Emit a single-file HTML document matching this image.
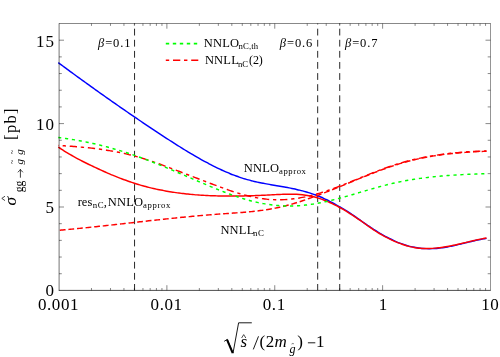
<!DOCTYPE html>
<html><head><meta charset="utf-8"><title>plot</title>
<style>html,body{margin:0;padding:0;background:#fff;}body{width:500px;height:357px;position:relative;overflow:hidden;font-family:"Liberation Serif",serif;}</style>
</head><body>
<svg width="500" height="357" viewBox="0 0 500 357" style="position:absolute;left:0;top:0;will-change:transform">
<rect width="500" height="357" fill="#fff"/>
<path d="M91.47 290.40v-2.40M91.47 23.50v2.40M110.47 290.40v-2.40M110.47 23.50v2.40M123.95 290.40v-2.40M123.95 23.50v2.40M134.40 290.40v-2.40M134.40 23.50v2.40M142.94 290.40v-2.40M142.94 23.50v2.40M150.16 290.40v-2.40M150.16 23.50v2.40M156.42 290.40v-2.40M156.42 23.50v2.40M161.94 290.40v-2.40M161.94 23.50v2.40M166.88 290.40v-5.20M166.88 23.50v5.20M199.35 290.40v-2.40M199.35 23.50v2.40M218.34 290.40v-2.40M218.34 23.50v2.40M231.82 290.40v-2.40M231.82 23.50v2.40M242.28 290.40v-2.40M242.28 23.50v2.40M250.82 290.40v-2.40M250.82 23.50v2.40M258.04 290.40v-2.40M258.04 23.50v2.40M264.30 290.40v-2.40M264.30 23.50v2.40M269.81 290.40v-2.40M269.81 23.50v2.40M274.75 290.40v-5.20M274.75 23.50v5.20M307.22 290.40v-2.40M307.22 23.50v2.40M326.22 290.40v-2.40M326.22 23.50v2.40M339.70 290.40v-2.40M339.70 23.50v2.40M350.15 290.40v-2.40M350.15 23.50v2.40M358.69 290.40v-2.40M358.69 23.50v2.40M365.91 290.40v-2.40M365.91 23.50v2.40M372.17 290.40v-2.40M372.17 23.50v2.40M377.69 290.40v-2.40M377.69 23.50v2.40M382.62 290.40v-5.20M382.62 23.50v5.20M415.10 290.40v-2.40M415.10 23.50v2.40M434.09 290.40v-2.40M434.09 23.50v2.40M447.57 290.40v-2.40M447.57 23.50v2.40M458.03 290.40v-2.40M458.03 23.50v2.40M466.57 290.40v-2.40M466.57 23.50v2.40M473.79 290.40v-2.40M473.79 23.50v2.40M480.05 290.40v-2.40M480.05 23.50v2.40M485.56 290.40v-2.40M485.56 23.50v2.40M59.00 273.72h2.80M490.50 273.72h-2.80M59.00 257.04h2.80M490.50 257.04h-2.80M59.00 240.36h2.80M490.50 240.36h-2.80M59.00 223.68h2.80M490.50 223.68h-2.80M59.00 207.00h5.00M490.50 207.00h-5.00M59.00 190.32h2.80M490.50 190.32h-2.80M59.00 173.64h2.80M490.50 173.64h-2.80M59.00 156.96h2.80M490.50 156.96h-2.80M59.00 140.28h2.80M490.50 140.28h-2.80M59.00 123.60h5.00M490.50 123.60h-5.00M59.00 106.92h2.80M490.50 106.92h-2.80M59.00 90.24h2.80M490.50 90.24h-2.80M59.00 73.56h2.80M490.50 73.56h-2.80M59.00 56.88h2.80M490.50 56.88h-2.80M59.00 40.20h5.00M490.50 40.20h-5.00" stroke="#000" stroke-width="0.47" fill="none"/>
<g fill="none" stroke-linecap="butt" stroke-linejoin="round">
<path d="M134.55 290.40V23.50" stroke="#000" stroke-width="0.85" stroke-dasharray="6.8 4.3" stroke-dashoffset="0.4"/>
<path d="M317.68 290.40V23.50" stroke="#000" stroke-width="0.85" stroke-dasharray="6.8 4.3" stroke-dashoffset="0.4"/>
<path d="M339.73 290.40V23.50" stroke="#000" stroke-width="0.85" stroke-dasharray="6.8 4.3" stroke-dashoffset="0.4"/>
<path d="M58.30 62.67 C58.80 63.04 60.31 64.16 61.32 64.90 C62.32 65.64 63.33 66.38 64.33 67.12 C65.34 67.87 66.34 68.60 67.35 69.34 C68.35 70.08 69.36 70.82 70.36 71.55 C71.37 72.29 72.37 73.02 73.38 73.76 C74.38 74.49 75.39 75.22 76.39 75.96 C77.40 76.69 78.40 77.42 79.41 78.15 C80.41 78.88 81.42 79.60 82.42 80.33 C83.43 81.06 84.43 81.78 85.44 82.51 C86.44 83.23 87.45 83.96 88.45 84.68 C89.46 85.40 90.47 86.12 91.47 86.84 C92.48 87.56 93.48 88.28 94.49 89.00 C95.49 89.72 96.50 90.44 97.50 91.15 C98.51 91.87 99.51 92.58 100.52 93.30 C101.52 94.01 102.53 94.72 103.53 95.43 C104.54 96.14 105.54 96.85 106.55 97.56 C107.55 98.27 108.56 98.98 109.56 99.68 C110.57 100.39 111.57 101.09 112.58 101.80 C113.58 102.50 114.59 103.20 115.59 103.91 C116.60 104.61 117.60 105.31 118.61 106.00 C119.62 106.70 120.62 107.40 121.63 108.10 C122.63 108.79 123.64 109.49 124.64 110.18 C125.65 110.88 126.65 111.57 127.66 112.26 C128.66 112.95 129.67 113.64 130.67 114.33 C131.68 115.02 132.68 115.70 133.69 116.39 C134.69 117.08 135.70 117.76 136.70 118.44 C137.71 119.13 138.71 119.81 139.72 120.49 C140.72 121.17 141.73 121.85 142.73 122.53 C143.74 123.21 144.74 123.88 145.75 124.56 C146.75 125.23 147.76 125.91 148.76 126.58 C149.77 127.25 150.78 127.92 151.78 128.59 C152.79 129.26 153.79 129.93 154.80 130.60 C155.80 131.26 156.81 131.93 157.81 132.59 C158.82 133.26 159.82 133.92 160.83 134.58 C161.83 135.24 162.84 135.90 163.84 136.56 C164.85 137.22 165.85 137.88 166.86 138.53 C167.86 139.18 168.87 139.84 169.87 140.49 C170.88 141.14 171.88 141.78 172.89 142.43 C173.89 143.07 174.90 143.71 175.90 144.35 C176.91 144.99 177.91 145.62 178.92 146.25 C179.92 146.89 180.93 147.51 181.94 148.14 C182.94 148.76 183.95 149.38 184.95 150.00 C185.96 150.61 186.96 151.22 187.97 151.83 C188.97 152.44 189.98 153.04 190.98 153.64 C191.99 154.24 192.99 154.83 194.00 155.42 C195.00 156.00 196.01 156.59 197.01 157.16 C198.02 157.74 199.02 158.31 200.03 158.88 C201.03 159.44 202.04 160.00 203.04 160.55 C204.05 161.11 205.05 161.65 206.06 162.19 C207.06 162.73 208.07 163.27 209.07 163.79 C210.08 164.32 211.08 164.84 212.09 165.35 C213.10 165.87 214.10 166.37 215.11 166.87 C216.11 167.37 217.12 167.86 218.12 168.34 C219.13 168.82 220.13 169.29 221.14 169.76 C222.14 170.23 223.15 170.68 224.15 171.13 C225.16 171.58 226.16 172.02 227.17 172.45 C228.17 172.88 229.18 173.30 230.18 173.71 C231.19 174.12 232.19 174.52 233.20 174.91 C234.20 175.30 235.21 175.68 236.21 176.05 C237.22 176.42 238.22 176.78 239.23 177.12 C240.23 177.47 241.24 177.80 242.25 178.12 C243.25 178.45 244.26 178.76 245.26 179.06 C246.27 179.35 247.27 179.64 248.28 179.91 C249.28 180.19 250.29 180.45 251.29 180.70 C252.30 180.95 253.30 181.19 254.31 181.43 C255.31 181.66 256.32 181.88 257.32 182.10 C258.33 182.31 259.33 182.52 260.34 182.72 C261.34 182.93 262.35 183.12 263.35 183.31 C264.36 183.50 265.36 183.69 266.37 183.87 C267.37 184.05 268.38 184.23 269.38 184.41 C270.39 184.58 271.39 184.76 272.40 184.93 C273.41 185.10 274.41 185.27 275.42 185.44 C276.42 185.62 277.43 185.79 278.43 185.96 C279.44 186.13 280.44 186.31 281.45 186.48 C282.45 186.66 283.46 186.84 284.46 187.02 C285.47 187.20 286.47 187.39 287.48 187.58 C288.48 187.77 289.49 187.96 290.49 188.16 C291.50 188.36 292.50 188.57 293.51 188.78 C294.51 188.99 295.52 189.21 296.52 189.44 C297.53 189.67 298.53 189.90 299.54 190.15 C300.54 190.39 301.55 190.64 302.55 190.91 C303.56 191.17 304.57 191.44 305.57 191.73 C306.58 192.02 307.58 192.31 308.59 192.62 C309.59 192.93 310.60 193.25 311.60 193.59 C312.61 193.92 313.61 194.27 314.62 194.63 C315.62 195.00 316.63 195.37 317.63 195.77 C318.64 196.16 319.64 196.57 320.65 197.00 C321.65 197.42 322.66 197.87 323.66 198.33 C324.67 198.79 325.67 199.27 326.68 199.77 C327.68 200.27 328.69 200.79 329.69 201.32 C330.70 201.84 331.70 202.39 332.71 202.93 C333.72 203.48 334.72 204.04 335.73 204.59 C336.73 205.15 337.74 205.71 338.74 206.28 C339.75 206.84 340.75 207.42 341.76 208.00 C342.76 208.59 343.77 209.18 344.77 209.79 C345.78 210.39 346.78 211.01 347.79 211.65 C348.79 212.29 349.80 212.95 350.80 213.62 C351.81 214.29 352.81 214.98 353.82 215.68 C354.82 216.37 355.83 217.08 356.83 217.79 C357.84 218.50 358.84 219.22 359.85 219.93 C360.85 220.64 361.86 221.35 362.86 222.06 C363.87 222.76 364.88 223.46 365.88 224.15 C366.89 224.84 367.89 225.53 368.90 226.20 C369.90 226.88 370.91 227.54 371.91 228.20 C372.92 228.85 373.92 229.50 374.93 230.13 C375.93 230.77 376.94 231.39 377.94 232.00 C378.95 232.62 379.95 233.22 380.96 233.81 C381.96 234.39 382.97 234.97 383.97 235.53 C384.98 236.09 385.98 236.64 386.99 237.17 C387.99 237.70 389.00 238.22 390.00 238.73 C391.01 239.23 392.01 239.72 393.02 240.19 C394.02 240.66 395.03 241.11 396.04 241.55 C397.04 241.98 398.05 242.40 399.05 242.80 C400.06 243.20 401.06 243.58 402.07 243.94 C403.07 244.30 404.08 244.65 405.08 244.97 C406.09 245.29 407.09 245.59 408.10 245.87 C409.10 246.15 410.11 246.41 411.11 246.64 C412.12 246.88 413.12 247.09 414.13 247.29 C415.13 247.48 416.14 247.65 417.14 247.81 C418.15 247.96 419.15 248.09 420.16 248.21 C421.16 248.32 422.17 248.41 423.17 248.49 C424.18 248.56 425.18 248.61 426.19 248.65 C427.20 248.69 428.20 248.70 429.21 248.70 C430.21 248.70 431.22 248.69 432.22 248.65 C433.23 248.61 434.23 248.56 435.24 248.49 C436.24 248.42 437.25 248.33 438.25 248.23 C439.26 248.13 440.26 248.01 441.27 247.88 C442.27 247.75 443.28 247.60 444.28 247.44 C445.29 247.28 446.29 247.11 447.30 246.93 C448.30 246.75 449.31 246.56 450.31 246.36 C451.32 246.16 452.32 245.94 453.33 245.73 C454.33 245.51 455.34 245.29 456.35 245.06 C457.35 244.83 458.36 244.60 459.36 244.36 C460.37 244.12 461.37 243.88 462.38 243.64 C463.38 243.39 464.39 243.15 465.39 242.90 C466.40 242.66 467.40 242.41 468.41 242.17 C469.41 241.93 470.42 241.69 471.42 241.45 C472.43 241.21 473.43 240.98 474.44 240.75 C475.44 240.52 476.45 240.29 477.45 240.08 C478.46 239.86 479.46 239.65 480.47 239.45 C481.47 239.25 482.48 239.05 483.48 238.87 C484.49 238.69 486.00 238.44 486.50 238.36" stroke="#0000ff" stroke-width="1.45"/>
<path d="M58.30 145.44 C58.80 145.47 60.31 145.56 61.32 145.62 C62.32 145.69 63.33 145.75 64.33 145.82 C65.34 145.88 66.34 145.95 67.35 146.02 C68.35 146.09 69.36 146.16 70.36 146.24 C71.37 146.31 72.37 146.38 73.38 146.46 C74.38 146.54 75.39 146.62 76.39 146.70 C77.40 146.78 78.40 146.87 79.41 146.96 C80.41 147.04 81.42 147.13 82.42 147.23 C83.43 147.32 84.43 147.41 85.44 147.51 C86.44 147.61 87.45 147.72 88.45 147.82 C89.46 147.93 90.47 148.04 91.47 148.15 C92.48 148.26 93.48 148.38 94.49 148.50 C95.49 148.62 96.50 148.75 97.50 148.88 C98.51 149.01 99.51 149.14 100.52 149.28 C101.52 149.42 102.53 149.56 103.53 149.71 C104.54 149.85 105.54 150.00 106.55 150.16 C107.55 150.32 108.56 150.48 109.56 150.65 C110.57 150.81 111.57 150.99 112.58 151.16 C113.58 151.34 114.59 151.53 115.59 151.72 C116.60 151.90 117.60 152.10 118.61 152.30 C119.62 152.50 120.62 152.71 121.63 152.92 C122.63 153.14 123.64 153.35 124.64 153.58 C125.65 153.81 126.65 154.04 127.66 154.28 C128.66 154.52 129.67 154.76 130.67 155.02 C131.68 155.27 132.68 155.53 133.69 155.80 C134.69 156.06 135.70 156.34 136.70 156.62 C137.71 156.90 138.71 157.19 139.72 157.49 C140.72 157.78 141.73 158.08 142.73 158.39 C143.74 158.70 144.74 159.01 145.75 159.33 C146.75 159.65 147.76 159.98 148.76 160.31 C149.77 160.64 150.78 160.97 151.78 161.31 C152.79 161.65 153.79 162.00 154.80 162.35 C155.80 162.70 156.81 163.05 157.81 163.41 C158.82 163.76 159.82 164.12 160.83 164.49 C161.83 164.85 162.84 165.22 163.84 165.59 C164.85 165.96 165.85 166.33 166.86 166.71 C167.86 167.08 168.87 167.46 169.87 167.84 C170.88 168.22 171.88 168.60 172.89 168.99 C173.89 169.37 174.90 169.76 175.90 170.14 C176.91 170.53 177.91 170.92 178.92 171.30 C179.92 171.69 180.93 172.08 181.94 172.47 C182.94 172.85 183.95 173.24 184.95 173.63 C185.96 174.02 186.96 174.41 187.97 174.80 C188.97 175.19 189.98 175.58 190.98 175.97 C191.99 176.35 192.99 176.74 194.00 177.13 C195.00 177.52 196.01 177.91 197.01 178.29 C198.02 178.68 199.02 179.07 200.03 179.45 C201.03 179.84 202.04 180.22 203.04 180.61 C204.05 180.99 205.05 181.37 206.06 181.75 C207.06 182.14 208.07 182.52 209.07 182.90 C210.08 183.28 211.08 183.65 212.09 184.03 C213.10 184.41 214.10 184.78 215.11 185.16 C216.11 185.53 217.12 185.90 218.12 186.27 C219.13 186.64 220.13 187.01 221.14 187.38 C222.14 187.74 223.15 188.11 224.15 188.47 C225.16 188.83 226.16 189.19 227.17 189.54 C228.17 189.89 229.18 190.24 230.18 190.59 C231.19 190.93 232.19 191.27 233.20 191.60 C234.20 191.93 235.21 192.26 236.21 192.57 C237.22 192.89 238.22 193.20 239.23 193.51 C240.23 193.81 241.24 194.10 242.25 194.39 C243.25 194.67 244.26 194.95 245.26 195.21 C246.27 195.48 247.27 195.73 248.28 195.98 C249.28 196.22 250.29 196.45 251.29 196.68 C252.30 196.90 253.30 197.11 254.31 197.31 C255.31 197.51 256.32 197.70 257.32 197.88 C258.33 198.06 259.33 198.22 260.34 198.38 C261.34 198.53 262.35 198.67 263.35 198.80 C264.36 198.93 265.36 199.05 266.37 199.15 C267.37 199.25 268.38 199.34 269.38 199.42 C270.39 199.50 271.39 199.56 272.40 199.61 C273.41 199.67 274.41 199.70 275.42 199.73 C276.42 199.75 277.43 199.77 278.43 199.76 C279.44 199.76 280.44 199.75 281.45 199.72 C282.45 199.70 283.46 199.66 284.46 199.61 C285.47 199.56 286.47 199.49 287.48 199.42 C288.48 199.34 289.49 199.25 290.49 199.16 C291.50 199.06 292.50 198.94 293.51 198.82 C294.51 198.70 295.52 198.56 296.52 198.42 C297.53 198.27 298.53 198.11 299.54 197.94 C300.54 197.78 301.55 197.59 302.55 197.40 C303.56 197.21 304.57 197.01 305.57 196.80 C306.58 196.58 307.58 196.36 308.59 196.13 C309.59 195.89 310.60 195.65 311.60 195.39 C312.61 195.14 313.61 194.87 314.62 194.60 C315.62 194.32 316.63 194.04 317.63 193.74 C318.64 193.45 319.64 193.15 320.65 192.84 C321.65 192.53 322.66 192.21 323.66 191.89 C324.67 191.56 325.67 191.23 326.68 190.89 C327.68 190.55 328.69 190.20 329.69 189.85 C330.70 189.50 331.70 189.14 332.71 188.78 C333.72 188.41 334.72 188.04 335.73 187.67 C336.73 187.29 337.74 186.91 338.74 186.53 C339.75 186.14 340.75 185.76 341.76 185.36 C342.76 184.97 343.77 184.58 344.77 184.18 C345.78 183.78 346.78 183.38 347.79 182.97 C348.79 182.57 349.80 182.16 350.80 181.76 C351.81 181.35 352.81 180.94 353.82 180.53 C354.82 180.12 355.83 179.71 356.83 179.30 C357.84 178.88 358.84 178.47 359.85 178.06 C360.85 177.65 361.86 177.24 362.86 176.82 C363.87 176.41 364.88 176.00 365.88 175.60 C366.89 175.19 367.89 174.78 368.90 174.38 C369.90 173.97 370.91 173.57 371.91 173.17 C372.92 172.77 373.92 172.37 374.93 171.98 C375.93 171.58 376.94 171.19 377.94 170.81 C378.95 170.42 379.95 170.04 380.96 169.66 C381.96 169.29 382.97 168.91 383.97 168.55 C384.98 168.18 385.98 167.82 386.99 167.46 C387.99 167.11 389.00 166.76 390.00 166.42 C391.01 166.07 392.01 165.74 393.02 165.41 C394.02 165.08 395.03 164.76 396.04 164.44 C397.04 164.13 398.05 163.82 399.05 163.52 C400.06 163.22 401.06 162.92 402.07 162.64 C403.07 162.35 404.08 162.07 405.08 161.79 C406.09 161.52 407.09 161.25 408.10 160.99 C409.10 160.73 410.11 160.47 411.11 160.22 C412.12 159.97 413.12 159.73 414.13 159.49 C415.13 159.26 416.14 159.03 417.14 158.80 C418.15 158.58 419.15 158.36 420.16 158.14 C421.16 157.93 422.17 157.72 423.17 157.52 C424.18 157.32 425.18 157.12 426.19 156.93 C427.20 156.74 428.20 156.56 429.21 156.38 C430.21 156.20 431.22 156.02 432.22 155.85 C433.23 155.68 434.23 155.52 435.24 155.36 C436.24 155.20 437.25 155.05 438.25 154.90 C439.26 154.75 440.26 154.60 441.27 154.46 C442.27 154.32 443.28 154.19 444.28 154.06 C445.29 153.93 446.29 153.80 447.30 153.68 C448.30 153.56 449.31 153.45 450.31 153.33 C451.32 153.22 452.32 153.11 453.33 153.01 C454.33 152.91 455.34 152.81 456.35 152.71 C457.35 152.61 458.36 152.52 459.36 152.44 C460.37 152.35 461.37 152.26 462.38 152.18 C463.38 152.10 464.39 152.03 465.39 151.96 C466.40 151.88 467.40 151.81 468.41 151.75 C469.41 151.68 470.42 151.62 471.42 151.56 C472.43 151.50 473.43 151.45 474.44 151.40 C475.44 151.35 476.45 151.30 477.45 151.25 C478.46 151.20 479.46 151.16 480.47 151.12 C481.47 151.08 482.48 151.04 483.48 151.01 C484.49 150.98 486.00 150.93 486.50 150.92" stroke="#ff0000" stroke-width="1.45" stroke-dasharray="3.3 3.8 7.3 3.8" stroke-dashoffset="13.85"/>
<path d="M58.30 230.35 C58.80 230.31 60.31 230.17 61.32 230.08 C62.32 229.99 63.33 229.90 64.33 229.81 C65.34 229.72 66.34 229.63 67.35 229.53 C68.35 229.44 69.36 229.34 70.36 229.25 C71.37 229.15 72.37 229.06 73.38 228.96 C74.38 228.86 75.39 228.76 76.39 228.66 C77.40 228.57 78.40 228.47 79.41 228.37 C80.41 228.27 81.42 228.17 82.42 228.06 C83.43 227.96 84.43 227.86 85.44 227.76 C86.44 227.66 87.45 227.55 88.45 227.45 C89.46 227.34 90.47 227.24 91.47 227.13 C92.48 227.03 93.48 226.92 94.49 226.82 C95.49 226.71 96.50 226.61 97.50 226.50 C98.51 226.39 99.51 226.28 100.52 226.18 C101.52 226.07 102.53 225.96 103.53 225.85 C104.54 225.74 105.54 225.63 106.55 225.52 C107.55 225.41 108.56 225.30 109.56 225.19 C110.57 225.08 111.57 224.97 112.58 224.86 C113.58 224.75 114.59 224.64 115.59 224.53 C116.60 224.42 117.60 224.31 118.61 224.20 C119.62 224.08 120.62 223.97 121.63 223.86 C122.63 223.75 123.64 223.64 124.64 223.53 C125.65 223.41 126.65 223.30 127.66 223.19 C128.66 223.08 129.67 222.96 130.67 222.85 C131.68 222.74 132.68 222.63 133.69 222.52 C134.69 222.40 135.70 222.29 136.70 222.18 C137.71 222.07 138.71 221.95 139.72 221.84 C140.72 221.73 141.73 221.62 142.73 221.51 C143.74 221.39 144.74 221.28 145.75 221.17 C146.75 221.06 147.76 220.95 148.76 220.84 C149.77 220.73 150.78 220.62 151.78 220.51 C152.79 220.40 153.79 220.29 154.80 220.18 C155.80 220.07 156.81 219.96 157.81 219.85 C158.82 219.74 159.82 219.63 160.83 219.52 C161.83 219.41 162.84 219.31 163.84 219.20 C164.85 219.09 165.85 218.98 166.86 218.88 C167.86 218.77 168.87 218.67 169.87 218.56 C170.88 218.46 171.88 218.35 172.89 218.25 C173.89 218.14 174.90 218.04 175.90 217.94 C176.91 217.84 177.91 217.73 178.92 217.63 C179.92 217.53 180.93 217.43 181.94 217.33 C182.94 217.23 183.95 217.13 184.95 217.03 C185.96 216.94 186.96 216.84 187.97 216.74 C188.97 216.65 189.98 216.55 190.98 216.46 C191.99 216.36 192.99 216.27 194.00 216.17 C195.00 216.08 196.01 215.99 197.01 215.90 C198.02 215.81 199.02 215.72 200.03 215.63 C201.03 215.54 202.04 215.45 203.04 215.37 C204.05 215.28 205.05 215.19 206.06 215.11 C207.06 215.02 208.07 214.94 209.07 214.86 C210.08 214.78 211.08 214.70 212.09 214.62 C213.10 214.54 214.10 214.46 215.11 214.38 C216.11 214.30 217.12 214.23 218.12 214.15 C219.13 214.08 220.13 214.00 221.14 213.93 C222.14 213.86 223.15 213.79 224.15 213.72 C225.16 213.65 226.16 213.58 227.17 213.51 C228.17 213.44 229.18 213.37 230.18 213.30 C231.19 213.23 232.19 213.16 233.20 213.09 C234.20 213.02 235.21 212.95 236.21 212.87 C237.22 212.80 238.22 212.73 239.23 212.65 C240.23 212.57 241.24 212.49 242.25 212.41 C243.25 212.33 244.26 212.25 245.26 212.16 C246.27 212.07 247.27 211.98 248.28 211.89 C249.28 211.80 250.29 211.70 251.29 211.60 C252.30 211.50 253.30 211.39 254.31 211.28 C255.31 211.17 256.32 211.06 257.32 210.94 C258.33 210.82 259.33 210.70 260.34 210.57 C261.34 210.44 262.35 210.30 263.35 210.16 C264.36 210.02 265.36 209.87 266.37 209.71 C267.37 209.56 268.38 209.40 269.38 209.23 C270.39 209.06 271.39 208.89 272.40 208.70 C273.41 208.52 274.41 208.33 275.42 208.13 C276.42 207.93 277.43 207.72 278.43 207.51 C279.44 207.29 280.44 207.07 281.45 206.83 C282.45 206.60 283.46 206.36 284.46 206.10 C285.47 205.85 286.47 205.59 287.48 205.32 C288.48 205.06 289.49 204.78 290.49 204.49 C291.50 204.21 292.50 203.92 293.51 203.62 C294.51 203.32 295.52 203.02 296.52 202.70 C297.53 202.39 298.53 202.07 299.54 201.75 C300.54 201.43 301.55 201.09 302.55 200.76 C303.56 200.42 304.57 200.08 305.57 199.74 C306.58 199.39 307.58 199.04 308.59 198.69 C309.59 198.33 310.60 197.98 311.60 197.61 C312.61 197.25 313.61 196.88 314.62 196.51 C315.62 196.15 316.63 195.77 317.63 195.40 C318.64 195.02 319.64 194.64 320.65 194.26 C321.65 193.87 322.66 193.49 323.66 193.10 C324.67 192.71 325.67 192.32 326.68 191.92 C327.68 191.53 328.69 191.13 329.69 190.73 C330.70 190.34 331.70 189.93 332.71 189.53 C333.72 189.13 334.72 188.72 335.73 188.31 C336.73 187.91 337.74 187.50 338.74 187.09 C339.75 186.68 340.75 186.27 341.76 185.85 C342.76 185.44 343.77 185.03 344.77 184.61 C345.78 184.20 346.78 183.78 347.79 183.37 C348.79 182.95 349.80 182.54 350.80 182.12 C351.81 181.71 352.81 181.29 353.82 180.88 C354.82 180.46 355.83 180.05 356.83 179.64 C357.84 179.22 358.84 178.81 359.85 178.40 C360.85 177.99 361.86 177.58 362.86 177.17 C363.87 176.77 364.88 176.36 365.88 175.96 C366.89 175.55 367.89 175.15 368.90 174.75 C369.90 174.35 370.91 173.96 371.91 173.56 C372.92 173.17 373.92 172.78 374.93 172.39 C375.93 172.00 376.94 171.62 377.94 171.24 C378.95 170.86 379.95 170.48 380.96 170.11 C381.96 169.74 382.97 169.37 383.97 169.00 C384.98 168.64 385.98 168.28 386.99 167.92 C387.99 167.57 389.00 167.22 390.00 166.87 C391.01 166.53 392.01 166.19 393.02 165.86 C394.02 165.52 395.03 165.19 396.04 164.87 C397.04 164.55 398.05 164.23 399.05 163.92 C400.06 163.61 401.06 163.31 402.07 163.01 C403.07 162.72 404.08 162.43 405.08 162.14 C406.09 161.86 407.09 161.59 408.10 161.32 C409.10 161.05 410.11 160.79 411.11 160.53 C412.12 160.28 413.12 160.03 414.13 159.79 C415.13 159.55 416.14 159.32 417.14 159.09 C418.15 158.86 419.15 158.64 420.16 158.43 C421.16 158.21 422.17 158.01 423.17 157.80 C424.18 157.60 425.18 157.41 426.19 157.22 C427.20 157.03 428.20 156.84 429.21 156.66 C430.21 156.49 431.22 156.31 432.22 156.15 C433.23 155.98 434.23 155.82 435.24 155.66 C436.24 155.51 437.25 155.35 438.25 155.21 C439.26 155.06 440.26 154.92 441.27 154.79 C442.27 154.65 443.28 154.52 444.28 154.39 C445.29 154.26 446.29 154.14 447.30 154.03 C448.30 153.91 449.31 153.80 450.31 153.69 C451.32 153.58 452.32 153.47 453.33 153.37 C454.33 153.27 455.34 153.18 456.35 153.08 C457.35 152.99 458.36 152.90 459.36 152.82 C460.37 152.73 461.37 152.65 462.38 152.57 C463.38 152.49 464.39 152.42 465.39 152.35 C466.40 152.27 467.40 152.21 468.41 152.14 C469.41 152.08 470.42 152.01 471.42 151.95 C472.43 151.89 473.43 151.84 474.44 151.78 C475.44 151.73 476.45 151.68 477.45 151.63 C478.46 151.58 479.46 151.53 480.47 151.49 C481.47 151.44 482.48 151.40 483.48 151.36 C484.49 151.32 486.00 151.26 486.50 151.24" stroke="#ff0000" stroke-width="1.45" stroke-dasharray="5.8 2.84" stroke-dashoffset="7.14"/>
<path d="M58.30 147.11 C58.80 147.44 60.31 148.46 61.32 149.12 C62.32 149.77 63.33 150.41 64.33 151.04 C65.34 151.67 66.34 152.29 67.35 152.90 C68.35 153.50 69.36 154.10 70.36 154.68 C71.37 155.27 72.37 155.84 73.38 156.40 C74.38 156.97 75.39 157.52 76.39 158.06 C77.40 158.61 78.40 159.14 79.41 159.67 C80.41 160.20 81.42 160.72 82.42 161.23 C83.43 161.74 84.43 162.25 85.44 162.75 C86.44 163.25 87.45 163.74 88.45 164.23 C89.46 164.72 90.47 165.20 91.47 165.68 C92.48 166.16 93.48 166.63 94.49 167.10 C95.49 167.57 96.50 168.04 97.50 168.50 C98.51 168.97 99.51 169.43 100.52 169.88 C101.52 170.34 102.53 170.79 103.53 171.24 C104.54 171.68 105.54 172.13 106.55 172.56 C107.55 173.00 108.56 173.44 109.56 173.86 C110.57 174.29 111.57 174.72 112.58 175.13 C113.58 175.55 114.59 175.96 115.59 176.37 C116.60 176.78 117.60 177.18 118.61 177.58 C119.62 177.97 120.62 178.36 121.63 178.74 C122.63 179.13 123.64 179.50 124.64 179.87 C125.65 180.24 126.65 180.61 127.66 180.96 C128.66 181.32 129.67 181.67 130.67 182.01 C131.68 182.35 132.68 182.69 133.69 183.01 C134.69 183.34 135.70 183.66 136.70 183.97 C137.71 184.28 138.71 184.58 139.72 184.88 C140.72 185.18 141.73 185.47 142.73 185.75 C143.74 186.03 144.74 186.30 145.75 186.57 C146.75 186.84 147.76 187.10 148.76 187.35 C149.77 187.60 150.78 187.85 151.78 188.09 C152.79 188.33 153.79 188.56 154.80 188.79 C155.80 189.01 156.81 189.23 157.81 189.44 C158.82 189.66 159.82 189.86 160.83 190.06 C161.83 190.26 162.84 190.46 163.84 190.64 C164.85 190.83 165.85 191.01 166.86 191.19 C167.86 191.37 168.87 191.54 169.87 191.70 C170.88 191.87 171.88 192.02 172.89 192.18 C173.89 192.33 174.90 192.48 175.90 192.62 C176.91 192.76 177.91 192.90 178.92 193.03 C179.92 193.16 180.93 193.29 181.94 193.41 C182.94 193.53 183.95 193.65 184.95 193.76 C185.96 193.87 186.96 193.98 187.97 194.08 C188.97 194.18 189.98 194.28 190.98 194.38 C191.99 194.47 192.99 194.56 194.00 194.64 C195.00 194.73 196.01 194.81 197.01 194.88 C198.02 194.96 199.02 195.03 200.03 195.10 C201.03 195.17 202.04 195.23 203.04 195.29 C204.05 195.35 205.05 195.41 206.06 195.46 C207.06 195.51 208.07 195.56 209.07 195.61 C210.08 195.65 211.08 195.69 212.09 195.73 C213.10 195.77 214.10 195.81 215.11 195.84 C216.11 195.87 217.12 195.90 218.12 195.92 C219.13 195.95 220.13 195.97 221.14 195.99 C222.14 196.01 223.15 196.02 224.15 196.03 C225.16 196.05 226.16 196.06 227.17 196.06 C228.17 196.07 229.18 196.07 230.18 196.07 C231.19 196.07 232.19 196.07 233.20 196.07 C234.20 196.06 235.21 196.06 236.21 196.05 C237.22 196.04 238.22 196.02 239.23 196.01 C240.23 195.99 241.24 195.98 242.25 195.96 C243.25 195.94 244.26 195.92 245.26 195.89 C246.27 195.87 247.27 195.84 248.28 195.81 C249.28 195.78 250.29 195.75 251.29 195.72 C252.30 195.69 253.30 195.65 254.31 195.62 C255.31 195.58 256.32 195.54 257.32 195.50 C258.33 195.46 259.33 195.42 260.34 195.38 C261.34 195.33 262.35 195.29 263.35 195.24 C264.36 195.20 265.36 195.15 266.37 195.10 C267.37 195.05 268.38 195.00 269.38 194.95 C270.39 194.89 271.39 194.84 272.40 194.79 C273.41 194.73 274.41 194.68 275.42 194.63 C276.42 194.58 277.43 194.53 278.43 194.48 C279.44 194.43 280.44 194.39 281.45 194.35 C282.45 194.31 283.46 194.28 284.46 194.25 C285.47 194.22 286.47 194.20 287.48 194.19 C288.48 194.18 289.49 194.17 290.49 194.17 C291.50 194.18 292.50 194.19 293.51 194.22 C294.51 194.25 295.52 194.28 296.52 194.33 C297.53 194.39 298.53 194.45 299.54 194.53 C300.54 194.60 301.55 194.70 302.55 194.81 C303.56 194.91 304.57 195.04 305.57 195.18 C306.58 195.33 307.58 195.48 308.59 195.67 C309.59 195.85 310.60 196.04 311.60 196.27 C312.61 196.49 313.61 196.73 314.62 196.99 C315.62 197.26 316.63 197.54 317.63 197.85 C318.64 198.16 319.64 198.49 320.65 198.84 C321.65 199.19 322.66 199.56 323.66 199.95 C324.67 200.34 325.67 200.75 326.68 201.17 C327.68 201.60 328.69 202.04 329.69 202.50 C330.70 202.95 331.70 203.43 332.71 203.92 C333.72 204.41 334.72 204.91 335.73 205.42 C336.73 205.94 337.74 206.47 338.74 207.01 C339.75 207.55 340.75 208.11 341.76 208.68 C342.76 209.24 343.77 209.82 344.77 210.41 C345.78 211.00 346.78 211.61 347.79 212.22 C348.79 212.84 349.80 213.46 350.80 214.10 C351.81 214.73 352.81 215.38 353.82 216.04 C354.82 216.70 355.83 217.37 356.83 218.04 C357.84 218.72 358.84 219.41 359.85 220.11 C360.85 220.80 361.86 221.51 362.86 222.23 C363.87 222.94 364.88 223.67 365.88 224.39 C366.89 225.11 367.89 225.85 368.90 226.57 C369.90 227.29 370.91 228.01 371.91 228.71 C372.92 229.41 373.92 230.10 374.93 230.77 C375.93 231.43 376.94 232.08 377.94 232.70 C378.95 233.32 379.95 233.91 380.96 234.49 C381.96 235.06 382.97 235.61 383.97 236.14 C384.98 236.68 385.98 237.19 386.99 237.69 C387.99 238.19 389.00 238.68 390.00 239.15 C391.01 239.63 392.01 240.09 393.02 240.55 C394.02 241.00 395.03 241.44 396.04 241.87 C397.04 242.30 398.05 242.72 399.05 243.11 C400.06 243.51 401.06 243.89 402.07 244.25 C403.07 244.61 404.08 244.95 405.08 245.27 C406.09 245.59 407.09 245.89 408.10 246.16 C409.10 246.43 410.11 246.68 411.11 246.90 C412.12 247.12 413.12 247.31 414.13 247.49 C415.13 247.66 416.14 247.81 417.14 247.94 C418.15 248.07 419.15 248.17 420.16 248.26 C421.16 248.34 422.17 248.41 423.17 248.45 C424.18 248.50 425.18 248.52 426.19 248.53 C427.20 248.54 428.20 248.53 429.21 248.50 C430.21 248.48 431.22 248.43 432.22 248.37 C433.23 248.31 434.23 248.24 435.24 248.15 C436.24 248.06 437.25 247.96 438.25 247.84 C439.26 247.73 440.26 247.60 441.27 247.46 C442.27 247.32 443.28 247.17 444.28 247.00 C445.29 246.84 446.29 246.67 447.30 246.49 C448.30 246.31 449.31 246.12 450.31 245.93 C451.32 245.73 452.32 245.52 453.33 245.31 C454.33 245.11 455.34 244.89 456.35 244.67 C457.35 244.45 458.36 244.22 459.36 243.99 C460.37 243.76 461.37 243.53 462.38 243.30 C463.38 243.06 464.39 242.82 465.39 242.59 C466.40 242.35 467.40 242.11 468.41 241.87 C469.41 241.63 470.42 241.40 471.42 241.16 C472.43 240.93 473.43 240.69 474.44 240.46 C475.44 240.23 476.45 240.00 477.45 239.78 C478.46 239.56 479.46 239.34 480.47 239.13 C481.47 238.92 482.48 238.71 483.48 238.51 C484.49 238.31 486.00 238.03 486.50 237.93" stroke="#ff0000" stroke-width="1.45"/>
<path d="M58.30 137.53 C58.80 137.59 60.31 137.77 61.32 137.90 C62.32 138.02 63.33 138.16 64.33 138.29 C65.34 138.43 66.34 138.57 67.35 138.72 C68.35 138.86 69.36 139.02 70.36 139.17 C71.37 139.33 72.37 139.49 73.38 139.65 C74.38 139.82 75.39 139.99 76.39 140.16 C77.40 140.34 78.40 140.52 79.41 140.70 C80.41 140.89 81.42 141.07 82.42 141.27 C83.43 141.46 84.43 141.66 85.44 141.86 C86.44 142.06 87.45 142.27 88.45 142.48 C89.46 142.69 90.47 142.91 91.47 143.13 C92.48 143.35 93.48 143.58 94.49 143.81 C95.49 144.04 96.50 144.27 97.50 144.51 C98.51 144.75 99.51 145.00 100.52 145.25 C101.52 145.50 102.53 145.75 103.53 146.01 C104.54 146.26 105.54 146.53 106.55 146.79 C107.55 147.06 108.56 147.33 109.56 147.61 C110.57 147.88 111.57 148.16 112.58 148.45 C113.58 148.73 114.59 149.02 115.59 149.32 C116.60 149.61 117.60 149.91 118.61 150.21 C119.62 150.52 120.62 150.82 121.63 151.14 C122.63 151.45 123.64 151.77 124.64 152.09 C125.65 152.41 126.65 152.73 127.66 153.06 C128.66 153.39 129.67 153.73 130.67 154.07 C131.68 154.40 132.68 154.75 133.69 155.10 C134.69 155.44 135.70 155.80 136.70 156.15 C137.71 156.51 138.71 156.87 139.72 157.23 C140.72 157.60 141.73 157.97 142.73 158.34 C143.74 158.71 144.74 159.09 145.75 159.47 C146.75 159.85 147.76 160.23 148.76 160.62 C149.77 161.01 150.78 161.40 151.78 161.79 C152.79 162.18 153.79 162.58 154.80 162.98 C155.80 163.38 156.81 163.78 157.81 164.18 C158.82 164.59 159.82 165.00 160.83 165.41 C161.83 165.82 162.84 166.23 163.84 166.64 C164.85 167.06 165.85 167.47 166.86 167.89 C167.86 168.31 168.87 168.73 169.87 169.15 C170.88 169.57 171.88 170.00 172.89 170.42 C173.89 170.84 174.90 171.27 175.90 171.70 C176.91 172.13 177.91 172.55 178.92 172.98 C179.92 173.41 180.93 173.84 181.94 174.28 C182.94 174.71 183.95 175.14 184.95 175.57 C185.96 176.00 186.96 176.44 187.97 176.87 C188.97 177.30 189.98 177.74 190.98 178.17 C191.99 178.60 192.99 179.04 194.00 179.47 C195.00 179.90 196.01 180.34 197.01 180.77 C198.02 181.20 199.02 181.63 200.03 182.07 C201.03 182.50 202.04 182.93 203.04 183.36 C204.05 183.79 205.05 184.22 206.06 184.64 C207.06 185.07 208.07 185.49 209.07 185.92 C210.08 186.34 211.08 186.76 212.09 187.18 C213.10 187.60 214.10 188.01 215.11 188.42 C216.11 188.83 217.12 189.24 218.12 189.65 C219.13 190.05 220.13 190.45 221.14 190.85 C222.14 191.25 223.15 191.64 224.15 192.02 C225.16 192.41 226.16 192.80 227.17 193.17 C228.17 193.55 229.18 193.92 230.18 194.29 C231.19 194.65 232.19 195.01 233.20 195.37 C234.20 195.72 235.21 196.07 236.21 196.41 C237.22 196.75 238.22 197.08 239.23 197.41 C240.23 197.74 241.24 198.06 242.25 198.37 C243.25 198.68 244.26 198.98 245.26 199.28 C246.27 199.57 247.27 199.86 248.28 200.13 C249.28 200.41 250.29 200.68 251.29 200.94 C252.30 201.20 253.30 201.45 254.31 201.69 C255.31 201.93 256.32 202.16 257.32 202.38 C258.33 202.60 259.33 202.81 260.34 203.01 C261.34 203.21 262.35 203.41 263.35 203.59 C264.36 203.77 265.36 203.94 266.37 204.10 C267.37 204.26 268.38 204.42 269.38 204.56 C270.39 204.70 271.39 204.83 272.40 204.95 C273.41 205.07 274.41 205.18 275.42 205.29 C276.42 205.39 277.43 205.48 278.43 205.56 C279.44 205.64 280.44 205.71 281.45 205.76 C282.45 205.82 283.46 205.87 284.46 205.91 C285.47 205.95 286.47 205.97 287.48 205.99 C288.48 206.00 289.49 206.01 290.49 206.00 C291.50 206.00 292.50 205.98 293.51 205.95 C294.51 205.93 295.52 205.89 296.52 205.84 C297.53 205.79 298.53 205.72 299.54 205.65 C300.54 205.58 301.55 205.50 302.55 205.40 C303.56 205.31 304.57 205.20 305.57 205.09 C306.58 204.98 307.58 204.85 308.59 204.72 C309.59 204.58 310.60 204.44 311.60 204.29 C312.61 204.14 313.61 203.98 314.62 203.81 C315.62 203.64 316.63 203.46 317.63 203.28 C318.64 203.09 319.64 202.90 320.65 202.70 C321.65 202.50 322.66 202.29 323.66 202.08 C324.67 201.87 325.67 201.64 326.68 201.42 C327.68 201.19 328.69 200.96 329.69 200.72 C330.70 200.48 331.70 200.24 332.71 199.99 C333.72 199.74 334.72 199.48 335.73 199.23 C336.73 198.97 337.74 198.70 338.74 198.44 C339.75 198.17 340.75 197.90 341.76 197.62 C342.76 197.35 343.77 197.07 344.77 196.79 C345.78 196.51 346.78 196.22 347.79 195.94 C348.79 195.65 349.80 195.36 350.80 195.07 C351.81 194.78 352.81 194.49 353.82 194.19 C354.82 193.90 355.83 193.60 356.83 193.31 C357.84 193.01 358.84 192.71 359.85 192.42 C360.85 192.12 361.86 191.82 362.86 191.53 C363.87 191.23 364.88 190.93 365.88 190.64 C366.89 190.34 367.89 190.05 368.90 189.76 C369.90 189.46 370.91 189.17 371.91 188.88 C372.92 188.59 373.92 188.31 374.93 188.02 C375.93 187.74 376.94 187.46 377.94 187.18 C378.95 186.90 379.95 186.63 380.96 186.35 C381.96 186.08 382.97 185.82 383.97 185.55 C384.98 185.29 385.98 185.03 386.99 184.78 C387.99 184.53 389.00 184.28 390.00 184.03 C391.01 183.79 392.01 183.55 393.02 183.32 C394.02 183.09 395.03 182.87 396.04 182.65 C397.04 182.43 398.05 182.21 399.05 182.01 C400.06 181.80 401.06 181.59 402.07 181.40 C403.07 181.20 404.08 181.01 405.08 180.82 C406.09 180.63 407.09 180.45 408.10 180.28 C409.10 180.10 410.11 179.93 411.11 179.76 C412.12 179.59 413.12 179.43 414.13 179.27 C415.13 179.12 416.14 178.96 417.14 178.82 C418.15 178.67 419.15 178.53 420.16 178.39 C421.16 178.25 422.17 178.11 423.17 177.98 C424.18 177.85 425.18 177.72 426.19 177.60 C427.20 177.48 428.20 177.36 429.21 177.25 C430.21 177.13 431.22 177.02 432.22 176.91 C433.23 176.81 434.23 176.70 435.24 176.60 C436.24 176.50 437.25 176.41 438.25 176.31 C439.26 176.22 440.26 176.13 441.27 176.04 C442.27 175.96 443.28 175.87 444.28 175.79 C445.29 175.71 446.29 175.64 447.30 175.56 C448.30 175.49 449.31 175.41 450.31 175.34 C451.32 175.28 452.32 175.21 453.33 175.14 C454.33 175.08 455.34 175.02 456.35 174.96 C457.35 174.90 458.36 174.84 459.36 174.79 C460.37 174.73 461.37 174.68 462.38 174.63 C463.38 174.58 464.39 174.53 465.39 174.48 C466.40 174.43 467.40 174.39 468.41 174.34 C469.41 174.30 470.42 174.26 471.42 174.22 C472.43 174.18 473.43 174.14 474.44 174.10 C475.44 174.06 476.45 174.02 477.45 173.99 C478.46 173.95 479.46 173.92 480.47 173.88 C481.47 173.85 482.48 173.82 483.48 173.78 C484.49 173.75 486.00 173.70 486.50 173.69" stroke="#00ff00" stroke-width="1.45" stroke-dasharray="3.2 3.75" stroke-dashoffset="0.2"/>
<path d="M165.8 43.6H197.3" stroke="#00ff00" stroke-width="1.6" stroke-dasharray="3.4 3.6"/>
<path d="M165.8 60.3H198.3" stroke="#ff0000" stroke-width="1.6" stroke-dasharray="3.4 3.8 7.3 3.7"/>
</g>
<path d="M59.00 23.50H490.70" fill="none" stroke="#000" stroke-width="0.47"/>
<path d="M490.50 23.50V290.40" fill="none" stroke="#000" stroke-width="0.42"/>
<path d="M58.80 290.40H490.70" fill="none" stroke="#000" stroke-width="0.7"/>
<path d="M59.10 23.30V290.60" fill="none" stroke="#000" stroke-width="0.55"/>
<g font-family="'Liberation Serif', serif" fill="#000" font-size="17px">
<text x="55.1" y="296.10" text-anchor="end" letter-spacing="1">0</text>
<text x="55.1" y="213.30" text-anchor="end" letter-spacing="1">5</text>
<text x="55.1" y="129.90" text-anchor="end" letter-spacing="1">10</text>
<text x="55.1" y="46.50" text-anchor="end" letter-spacing="1">15</text>
<text x="58.50" y="310.1" text-anchor="middle" letter-spacing="0.55">0.001</text>
<text x="166.57" y="310.1" text-anchor="middle" letter-spacing="0.55">0.01</text>
<text x="274.25" y="310.1" text-anchor="middle" letter-spacing="0.55">0.1</text>
<text x="383.23" y="310.1" text-anchor="middle" letter-spacing="0.55">1</text>
<text x="490.30" y="310.1" text-anchor="middle" letter-spacing="0.55">10</text>
</g>
<g font-family="'Liberation Serif', serif" fill="#000" font-size="12.5px">
<text x="203.8" y="46.8" letter-spacing="0.20">NNLO</text>
<text x="238.5" y="49.2" font-size="8.7px" letter-spacing="0.15">nC,th</text>
<text x="204.9" y="64.4" letter-spacing="0.20">NNLL</text>
<text x="237.9" y="66.8" font-size="8.7px" letter-spacing="0.00">nC</text>
<text x="249.0" y="64.4" letter-spacing="-0.1" font-size="12px">(2)</text>
<text x="98" y="46.9" letter-spacing="0.9"><tspan font-style="italic">β</tspan>=0.1</text>
<text x="279.8" y="46.9" letter-spacing="0.9"><tspan font-style="italic">β</tspan>=0.6</text>
<text x="345" y="46.9" letter-spacing="0.9"><tspan font-style="italic">β</tspan>=0.7</text>
<text x="243.8" y="171.8" letter-spacing="0.20">NNLO</text>
<text x="279.0" y="173.7" font-size="8.7px" letter-spacing="0.55">approx</text>
<text x="220.4" y="233.5" letter-spacing="0.20">NNLL</text>
<text x="253.0" y="235.6" font-size="8.8px" letter-spacing="0.70">nC</text>
<text x="77.7" y="205.6" letter-spacing="0.00">res</text>
<text x="92.7" y="207.5" font-size="8.8px" letter-spacing="0.70">nC</text>
<text x="103.8" y="205.6">,</text>
<text x="107.8" y="205.6" letter-spacing="0.20">NNLO</text>
<text x="143.0" y="207.5" font-size="8.7px" letter-spacing="0.65">approx</text>
</g>
<g font-family="'Liberation Serif', serif" fill="#000" font-size="17px">
<path d="M224.2 341.3L227.3 339.4L233 353.2L238.6 322.8H251.8" fill="none" stroke="#000" stroke-width="0.9"/>
<path d="M227.0 339.6L232.7 353.0" fill="none" stroke="#000" stroke-width="2.0"/>
<text x="240.4" y="347.3" font-style="italic">s</text>
<path d="M241.6 338L243.7 334.6L245.8 338" fill="none" stroke="#000" stroke-width="0.7"/>
<path d="M253.3 349.4L258.5 336.3" fill="none" stroke="#000" stroke-width="0.9"/>
<text x="259.6" y="347.3">(</text>
<text x="265.8" y="347.3">2</text>
<text x="274.6" y="347.3" font-style="italic">m</text>
<text x="289.6" y="353.3" font-style="italic" font-size="12px">g</text>
<path d="M291.6 344.0q0.6 -0.7 1.1 -0.3t1.1 -0.3" fill="none" stroke="#000" stroke-width="0.6"/>
<text x="297.2" y="347.3">)</text>
<path d="M307.9 342.8H315.3" fill="none" stroke="#000" stroke-width="0.9"/>
<text x="316.1" y="347.3">1</text>
</g>
<g font-family="'Liberation Serif', serif" fill="#000" transform="translate(16,0) rotate(-90)">
<text x="-139.9" y="0" font-size="16.5px" letter-spacing="1.3">[pb]</text>
<text x="-205.6" y="0" font-size="17.5px" font-style="italic">σ</text>
<path d="M-200.6 -11L-198.4 -14.2L-196.2 -11" fill="none" stroke="#000" stroke-width="0.7"/>
<text x="-192.3" y="7" font-size="11.6px">gg</text>
<path d="M-177.7 4.4H-169.5M-172.3 1.9Q-170.6 3.6 -169.4 4.4Q-170.6 5.2 -172.3 6.9" fill="none" stroke="#000" stroke-width="0.75"/>
<text x="-164.5" y="7" font-size="11px" font-style="italic">g</text>
<text x="-164.1" y="-1.5" font-size="8px">~</text>
<text x="-154.7" y="7" font-size="11px" font-style="italic">g</text>
<text x="-154.3" y="-1.5" font-size="8px">~</text>
</g>
</svg>
</body></html>
